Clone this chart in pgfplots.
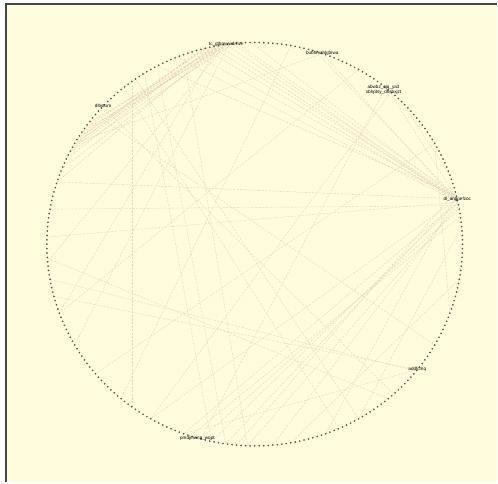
\documentclass[border=0pt]{standalone}
\usepackage{pgfplots}
\pgfplotsset{compat=1.18}
\usepackage{fontspec}
\setmainfont{Liberation Sans}
\definecolor{cream}{RGB}{255,251,221}
\definecolor{frameC}{RGB}{70,70,70}
\definecolor{dotC}{RGB}{85,85,85}
\definecolor{edgeT}{RGB}{228,215,188}
\definecolor{edgeP}{RGB}{234,204,184}
\pgfplotsset{
  eT/.style={data cs=polar, color=edgeT, line width=0.4pt, dash pattern=on 2.2pt off 1.4pt, mark=none, forget plot},
  eP/.style={data cs=polar, color=edgeP, line width=0.4pt, dash pattern=on 2.2pt off 1.4pt, mark=none, forget plot},
}
\newcommand{\edgeT}[2]{\addplot[eT] coordinates {(#1,205) (#2,205)};}
\newcommand{\edgeP}[2]{\addplot[eP] coordinates {(#1,205) (#2,205)};}
\begin{document}
\begin{tikzpicture}
\begin{axis}[
  x=1.015pt, y=0.985pt,
  xmin=-251.2, xmax=239.4, ymin=-242.1, ymax=248.2,
  enlargelimits=false, hide axis, clip=false,
]
% page background and panel
\addplot[fill=white, draw=none, forget plot] coordinates {(-251.2,-242.1) (239.4,-242.1) (239.4,248.2) (-251.2,248.2)} -- cycle;
\addplot[fill=cream, draw=none, forget plot] coordinates {(-245.3,-242.1) (239.4,-242.1) (239.4,244.2) (-245.3,244.2)} -- cycle;
\addplot[frameC, line width=1.3pt, forget plot] coordinates {(-245.3,-242.1) (-245.3,244.2) (239.4,244.2)};

% edges: top hub to left
\edgeP{97}{146}\edgeP{98}{148}\edgeP{99}{150}\edgeP{100}{147}\edgeP{101}{152}
\edgeP{102}{155}\edgeP{98}{158}\edgeP{103}{145}\edgeP{100}{162}\edgeP{104}{149}
\edgeP{96}{153}\edgeP{99}{143}\edgeP{105}{151}
% top hub to right hub
\edgeT{98}{13}\edgeP{100}{12.5}\edgeT{102}{13}\edgeT{96}{12}\edgeP{104}{12}
\edgeT{108}{13}\edgeT{112}{12}\edgeP{118}{14}\edgeT{95}{14}\edgeT{91}{13}
% bubh and cluster
\edgeT{71}{12}\edgeT{73}{13}\edgeT{50}{13}\edgeT{51}{255}\edgeT{49}{240}\edgeT{71}{150}
% left to right hub
\edgeP{162}{13}\edgeT{178}{12}\edgeT{170}{11}
% bottom to right hub
\edgeT{255}{10}\edgeT{258}{12}\edgeT{262}{13}\edgeT{265}{15}\edgeT{252}{8}\edgeT{268}{11}
% top to bottom
\edgeT{118}{262}\edgeT{122}{258}\edgeT{110}{268}\edgeT{126}{234}\edgeT{129}{294}
\edgeT{137}{312}\edgeT{125}{300}
% left to bottom right
\edgeT{184}{310}\edgeT{190}{321}\edgeT{195}{321.5}
% right hub to bottom
\edgeT{12}{250}\edgeT{13}{240}\edgeT{12}{275}\edgeT{14}{290}
% top to lower left
\edgeT{98}{185}\edgeT{100}{200}\edgeT{97}{210}
% misc
\edgeT{5}{300}\edgeT{350}{280}\edgeT{321.5}{250}\edgeT{60}{200}\edgeT{80}{230}
\edgeT{140}{330}\edgeT{30}{220}\edgeT{20}{45}\edgeT{340}{30}

% vertices
\addplot[only marks, mark=*, mark size=0.6pt, color=dotC, data cs=polar] table[row sep=\\] {
a r\\
0 205\\ 1.25 205\\ 2.5 205\\ 3.75 205\\
5 205\\ 6.25 205\\ 7.5 205\\ 8.75 205\\
10 205\\ 11.25 205\\ 12.5 205\\ 13.75 205\\
15 205\\ 16.25 205\\ 17.5 205\\ 18.75 205\\
20 205\\ 21.25 205\\ 22.5 205\\ 23.75 205\\
25 205\\ 26.25 205\\ 27.5 205\\ 28.75 205\\
30 205\\ 31.25 205\\ 32.5 205\\ 33.75 205\\
35 205\\ 36.25 205\\ 37.5 205\\ 38.75 205\\
40 205\\ 41.25 205\\ 42.5 205\\ 43.75 205\\
45 205\\ 46.25 205\\ 47.5 205\\ 48.75 205\\
50 205\\ 51.25 205\\ 52.5 205\\ 53.75 205\\
55 205\\ 56.25 205\\ 57.5 205\\ 58.75 205\\
60 205\\ 61.25 205\\ 62.5 205\\ 63.75 205\\
65 205\\ 66.25 205\\ 67.5 205\\ 68.75 205\\
70 205\\ 71.25 205\\ 72.5 205\\ 73.75 205\\
75 205\\ 76.25 205\\ 77.5 205\\ 78.75 205\\
80 205\\ 81.25 205\\ 82.5 205\\ 83.75 205\\
85 205\\ 86.25 205\\ 87.5 205\\ 88.75 205\\
90 205\\ 91.25 205\\ 92.5 205\\ 93.75 205\\
95 205\\ 96.25 205\\ 97.5 205\\ 98.75 205\\
100 205\\ 101.25 205\\ 102.5 205\\ 103.75 205\\
105 205\\ 106.25 205\\ 107.5 205\\ 108.75 205\\
110 205\\ 111.25 205\\ 112.5 205\\ 113.75 205\\
115 205\\ 116.25 205\\ 117.5 205\\ 118.75 205\\
120 205\\ 121.25 205\\ 122.5 205\\ 123.75 205\\
125 205\\ 126.25 205\\ 127.5 205\\ 128.75 205\\
130 205\\ 131.25 205\\ 132.5 205\\ 133.75 205\\
135 205\\ 136.25 205\\ 137.5 205\\ 138.75 205\\
140 205\\ 141.25 205\\ 142.5 205\\ 143.75 205\\
145 205\\ 146.25 205\\ 147.5 205\\ 148.75 205\\
150 205\\ 151.25 205\\ 152.5 205\\ 153.75 205\\
155 205\\ 156.25 205\\ 157.5 205\\ 158.75 205\\
160 205\\ 161.25 205\\ 162.5 205\\ 163.75 205\\
165 205\\ 166.25 205\\ 167.5 205\\ 168.75 205\\
170 205\\ 171.25 205\\ 172.5 205\\ 173.75 205\\
175 205\\ 176.25 205\\ 177.5 205\\ 178.75 205\\
180 205\\ 181.25 205\\ 182.5 205\\ 183.75 205\\
185 205\\ 186.25 205\\ 187.5 205\\ 188.75 205\\
190 205\\ 191.25 205\\ 192.5 205\\ 193.75 205\\
195 205\\ 196.25 205\\ 197.5 205\\ 198.75 205\\
200 205\\ 201.25 205\\ 202.5 205\\ 203.75 205\\
205 205\\ 206.25 205\\ 207.5 205\\ 208.75 205\\
210 205\\ 211.25 205\\ 212.5 205\\ 213.75 205\\
215 205\\ 216.25 205\\ 217.5 205\\ 218.75 205\\
220 205\\ 221.25 205\\ 222.5 205\\ 223.75 205\\
225 205\\ 226.25 205\\ 227.5 205\\ 228.75 205\\
230 205\\ 231.25 205\\ 232.5 205\\ 233.75 205\\
235 205\\ 236.25 205\\ 237.5 205\\ 238.75 205\\
240 205\\ 241.25 205\\ 242.5 205\\ 243.75 205\\
245 205\\ 246.25 205\\ 247.5 205\\ 248.75 205\\
250 205\\ 251.25 205\\ 252.5 205\\ 253.75 205\\
255 205\\ 256.25 205\\ 257.5 205\\ 258.75 205\\
260 205\\ 261.25 205\\ 262.5 205\\ 263.75 205\\
265 205\\ 266.25 205\\ 267.5 205\\ 268.75 205\\
270 205\\ 271.25 205\\ 272.5 205\\ 273.75 205\\
275 205\\ 276.25 205\\ 277.5 205\\ 278.75 205\\
280 205\\ 281.25 205\\ 282.5 205\\ 283.75 205\\
285 205\\ 286.25 205\\ 287.5 205\\ 288.75 205\\
290 205\\ 291.25 205\\ 292.5 205\\ 293.75 205\\
295 205\\ 296.25 205\\ 297.5 205\\ 298.75 205\\
300 205\\ 301.25 205\\ 302.5 205\\ 303.75 205\\
305 205\\ 306.25 205\\ 307.5 205\\ 308.75 205\\
310 205\\ 311.25 205\\ 312.5 205\\ 313.75 205\\
315 205\\ 316.25 205\\ 317.5 205\\ 318.75 205\\
320 205\\ 321.25 205\\ 322.5 205\\ 323.75 205\\
325 205\\ 326.25 205\\ 327.5 205\\ 328.75 205\\
330 205\\ 331.25 205\\ 332.5 205\\ 333.75 205\\
335 205\\ 336.25 205\\ 337.5 205\\ 338.75 205\\
340 205\\ 341.25 205\\ 342.5 205\\ 343.75 205\\
345 205\\ 346.25 205\\ 347.5 205\\ 348.75 205\\
350 205\\ 351.25 205\\ 352.5 205\\ 353.75 205\\
355 205\\ 356.25 205\\ 357.5 205\\ 358.75 205\\
};

% vertex labels
\addplot[only marks, mark=none, data cs=polar, nodes near coords, point meta=explicit symbolic,
  nodes near coords style={anchor=center, inner sep=0pt, font=\fontsize{4.6}{5}\selectfont, text=black}]
  table[row sep=\\, meta=lab] {
a r lab\\
97.9 205 tc\_gtbmwwdrhzv\\
71 205 bubhmahkjbrwa\\
136.8 205 dlbsturn\\
12.8 205 dl\_angpefzoc\\
321.5 205 addfcmq\\
254 205 pmdjmwnq\_wqpt\\
};
% clustered labels near 50 degrees, set as one two-line block
\addplot[only marks, mark=none, data cs=polar, nodes near coords, point meta=explicit symbolic,
  nodes near coords style={anchor=center, inner sep=0pt, align=center, font=\fontsize{4.6}{4.8}\selectfont, text=black}]
  table[row sep=\\, meta=lab] {
a r lab\\
51 202 {abwbz\_ojq\_ya3\\xbhptsy\_dhsbxjzt}\\
};
\end{axis}
\end{tikzpicture}
\end{document}
